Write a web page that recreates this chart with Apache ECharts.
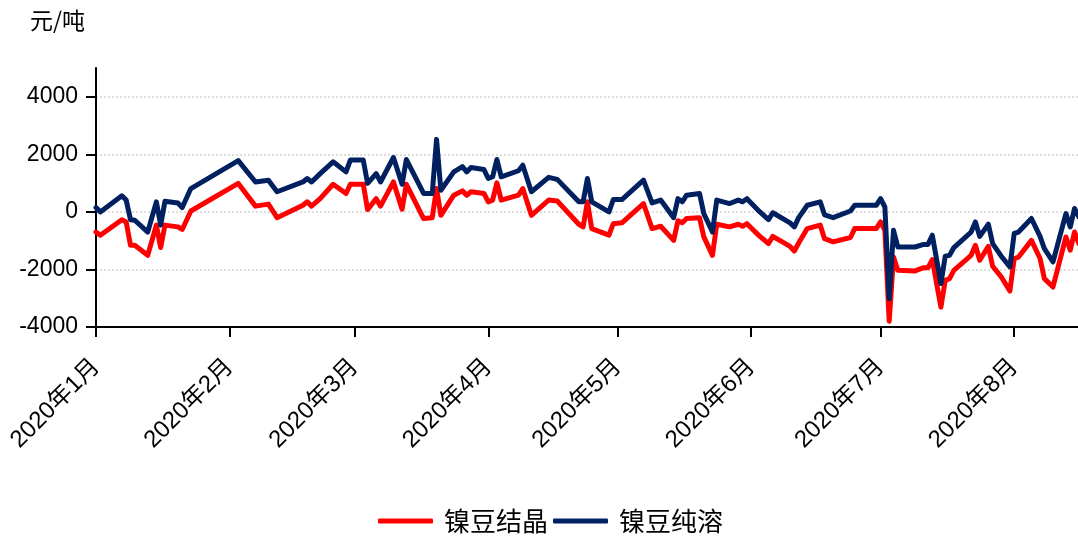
<!DOCTYPE html>
<html>
<head>
<meta charset="utf-8">
<script src="https://cdn.jsdelivr.net/npm/echarts@6/dist/echarts.min.js"></script>
<style>
html,body{margin:0;padding:0;background:#fff;}
#chart{width:1078px;height:538px;}
</style>
</head>
<body>
<div id="chart"></div>
<script>
// ---- data ----
const dates = [
'2020-01-01','2020-01-02','2020-01-07','2020-01-08','2020-01-09','2020-01-10','2020-01-13','2020-01-15','2020-01-16','2020-01-17',
'2020-01-20','2020-01-21','2020-01-23','2020-02-03','2020-02-07','2020-02-10','2020-02-12','2020-02-18','2020-02-19','2020-02-20',
'2020-02-22','2020-02-25','2020-02-28','2020-02-29','2020-03-03','2020-03-04','2020-03-06','2020-03-07','2020-03-10','2020-03-12',
'2020-03-13','2020-03-17','2020-03-19','2020-03-20','2020-03-21','2020-03-24','2020-03-26','2020-03-27','2020-03-28','2020-03-31',
'2020-04-01','2020-04-02','2020-04-03','2020-04-04','2020-04-08','2020-04-09','2020-04-11','2020-04-15','2020-04-17','2020-04-22',
'2020-04-23','2020-04-24','2020-04-25','2020-04-29','2020-04-30','2020-05-02','2020-05-07','2020-05-09','2020-05-11','2020-05-14',
'2020-05-15','2020-05-16','2020-05-17','2020-05-20','2020-05-21','2020-05-23','2020-05-24','2020-05-27','2020-05-29','2020-05-30',
'2020-05-31','2020-06-03','2020-06-05','2020-06-06','2020-06-10','2020-06-11','2020-06-12','2020-06-14','2020-06-17','2020-06-18',
'2020-06-20','2020-06-24','2020-06-25','2020-06-30','2020-07-01','2020-07-02','2020-07-03','2020-07-04','2020-07-05','2020-07-09',
'2020-07-11','2020-07-12','2020-07-13','2020-07-15','2020-07-16','2020-07-17','2020-07-18','2020-07-22','2020-07-23','2020-07-24',
'2020-07-26','2020-07-27','2020-07-29','2020-07-31','2020-08-01','2020-08-02','2020-08-05','2020-08-07','2020-08-08','2020-08-10',
'2020-08-13','2020-08-14','2020-08-15','2020-08-16'
];
// 镍豆结晶 (red)
const crystalValues = [
-700,-810,-270,-350,-1160,-1160,-1510,-460,-1240,-460,
-520,-610,30,990,200,270,-200,230,350,200,
460,960,640,960,960,80,460,200,1040,90,
960,-230,-200,810,-120,580,730,580,700,640,
350,410,1010,410,580,810,-120,410,380,-430,
-520,350,-580,-810,-410,-380,290,-580,-500,-990,
-310,-380,-230,-200,-870,-1510,-430,-520,-430,-500,
-410,-850,-1100,-850,-1200,-1360,-1080,-580,-460,-930,
-1040,-890,-580,-580,-350,-640,-3800,-1570,-2030,-2050,
-1940,-1940,-1660,-3310,-2380,-2320,-2030,-1510,-1160,-1680,
-1200,-1890,-2260,-2750,-1620,-1570,-990,-1620,-2320,-2610,
-870,-1330,-700,-1100
];
// 镍豆纯溶 (navy)
const pureValues = [
150,0,560,410,-270,-290,-700,350,-460,370,
310,150,810,1780,1040,1100,700,1040,1160,1040,
1330,1740,1390,1800,1800,990,1330,1040,1890,960,
1820,640,640,2520,750,1390,1570,1390,1540,1470,
1160,1220,1820,1220,1430,1620,700,1200,1130,350,
350,1160,350,0,430,430,1100,310,410,-200,
460,350,580,640,-60,-700,410,290,410,350,
460,0,-270,-30,-380,-520,-200,230,350,-100,
-200,30,230,230,460,170,-3020,-640,-1220,-1220,
-1130,-1130,-810,-2490,-1540,-1510,-1240,-700,-350,-850,
-430,-1100,-1540,-1910,-750,-700,-230,-850,-1280,-1740,
-60,-520,120,-170
];
const seriesNames = ['镍豆结晶','镍豆纯溶'];
const yTicks = [-4000,-2000,0,2000,4000];
const monthStarts = ['2020-01-01','2020-02-01','2020-03-01','2020-04-01','2020-05-01','2020-06-01','2020-07-01','2020-08-01'];
const unitLabel = '元/吨';

function ts(s){const p=s.split('-').map(Number);return new Date(p[0],p[1]-1,p[2]).getTime();}
const DAY = 86400000;
const xMin = ts('2020-01-01');
const xMax = xMin + 227.8*DAY;
const monthTicks = monthStarts.map(ts);

const chart = echarts.init(document.getElementById('chart'), null, {renderer:'canvas'});
const latin = "'Liberation Sans', 'Noto Sans CJK SC', sans-serif";
const cjk = "'Noto Sans CJK SC', sans-serif";

const option = {
  backgroundColor:'#fff',
  animation:false,
  grid:{left:96, right:0, top:68, bottom:211, containLabel:false, outerBoundsMode:'none'},
  graphic:[{type:'text', left:30, top:9, style:{text:unitLabel, font:"23px 'Noto Sans CJK SC'", fill:'#000'}}],
  legend:{
    data:seriesNames, left:378, top:508, padding:0, icon:'roundRect', itemWidth:55, itemHeight:5, itemGap:5,
    textStyle:{fontSize:26, fontFamily:cjk, color:'#000', padding:[0,0,0,6]}
  },
  xAxis:{
    type:'value', min:xMin, max:xMax,
    axisLine:{onZero:false, lineStyle:{color:'#000', width:2}},
    axisTick:{show:true, length:10, lineStyle:{color:'#000', width:2}, customValues:monthTicks},
    axisLabel:{customValues:monthTicks, rotate:45, margin:36, fontSize:24, fontFamily:latin, color:'#000',
      formatter:function(v){const d=new Date(v);return d.getFullYear()+'年'+(d.getMonth()+1)+'月';}},
    splitLine:{show:false}
  },
  yAxis:{
    type:'value', min:-4000, max:5000, interval:2000,
    axisLine:{show:true, onZero:false, lineStyle:{color:'#000', width:2}},
    axisTick:{show:true, length:10, lineStyle:{color:'#000', width:2}, customValues:yTicks},
    axisLabel:{customValues:yTicks, margin:18, fontSize:23, fontFamily:latin, color:'#000',
      formatter:function(v){return String(v);}},
    splitLine:{show:true, lineStyle:{color:'#d4d4d4', width:1.5, type:[2,2]}}
  },
  series:[
    {name:seriesNames[0], type:'line', showSymbol:false, symbol:'none', color:'#ff0000',
     lineStyle:{width:5, color:'#ff0000', join:'round', cap:'round'},
     data:dates.map((d,i)=>[ts(d), crystalValues[i]])},
    {name:seriesNames[1], type:'line', showSymbol:false, symbol:'none', color:'#002060',
     lineStyle:{width:5, color:'#002060', join:'round', cap:'round'},
     data:dates.map((d,i)=>[ts(d), pureValues[i]])}
  ]
};
chart.setOption(option);
</script>
</body>
</html>
